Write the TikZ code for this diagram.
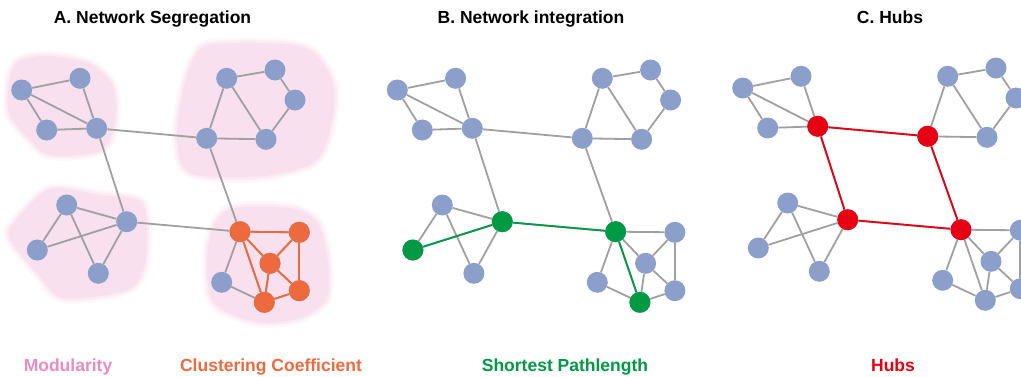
\documentclass[tikz,border=0pt]{standalone}
\usepackage{fontspec}
\setmainfont{Liberation Sans}

\definecolor{nodeblue}{HTML}{8C9FCA}
\definecolor{cluorange}{HTML}{EC6A3E}
\definecolor{pathgreen}{HTML}{009944}
\definecolor{hubred}{HTML}{E60012}
\definecolor{modpink}{HTML}{F8E0EE}
\definecolor{modtext}{HTML}{E98BC4}
\definecolor{edgegray}{HTML}{A0A0A0}

\pgfdeclarelayer{blobs}
\pgfdeclarelayer{edges}
\pgfsetlayers{blobs,edges,main}

\tikzset{
  vtx/.style={circle, fill=nodeblue, draw=none, inner sep=0pt, minimum size=21pt},
  link/.style={draw=edgegray, line width=1.8pt},
  heading/.style={anchor=base, inner sep=0pt, font=\fontsize{17.5}{20}\selectfont\bfseries},
}

% one network: nodes named <prefix><id>, grey links between them
\newcommand\network[1]{%
  \foreach \n/\x/\y in {a1/21.7/90, a2/80/78.3, a3/46.7/130, a4/96.7/128.3,
      b1/226.7/78.3, b2/275/70, b3/295/100, b4/266/139.3, b5/206.7/138.3,
      c1/66.7/205, c2/37.3/250, c3/98.3/273.3, c4/126.7/221.7,
      d1/240/231.7, d2/299.3/232.3, d3/270/263.3, d4/299.3/290.7,
      d5/264.3/302.3, d6/221.7/282.3}
    \node[vtx] (#1\n) at (\x,\y) {};
  \begin{pgfonlayer}{edges}
  \foreach \u/\v in {a1/a2,a1/a3,a1/a4,a2/a4,a3/a4,a4/b5,a4/c4,
      b1/b2,b2/b3,b3/b4,b1/b4,b1/b5,b5/b4,b5/d1,
      c1/c2,c1/c3,c1/c4,c2/c4,c3/c4,c4/d1,
      d1/d2,d1/d3,d1/d5,d1/d6,d2/d3,d2/d4,d3/d4,d3/d5,d4/d5,d6/d5}
    \draw[link] (#1\u) -- (#1\v);
  \end{pgfonlayer}%
}

% recolour some nodes and links of a network
\newcommand\highlight[4]{%
  \foreach \n in {#3}
    \node[vtx, fill=#2] (#1\n-hi) at (#1\n) {};
  \begin{pgfonlayer}{edges}
  \foreach \u/\v in {#4}
    \draw[link, draw=#2] (#1\u) -- (#1\v);
  \end{pgfonlayer}%
}

% soft pink module region
\newcommand\blob[1]{%
  \begin{pgfonlayer}{blobs}
  \draw[modpink, line width=10pt, opacity=.25, line join=round] plot[smooth cycle] coordinates {#1};
  \draw[modpink, line width=5pt, opacity=.5, line join=round] plot[smooth cycle] coordinates {#1};
  \fill[modpink] plot[smooth cycle] coordinates {#1};
  \end{pgfonlayer}%
}

\begin{document}
\begin{tikzpicture}[x=1pt, y=-1pt]
\useasboundingbox (0,0) rectangle (1021,376);

% ---- A: segregation ----
\blob{(20,60) (50,56) (90,64) (113,86) (115,123) (100,151) (50,155) (30,140) (9,113) (10,77)}
\blob{(213,44) (303,47) (333,83) (330,130) (313,163) (257,177) (190,173) (177,140) (182,95) (193,60)}
\blob{(50,189) (100,195) (143,204) (145,263) (127,290) (63,298) (37,273) (9,237) (20,216)}
\blob{(227,210) (290,208) (317,222) (327,255) (327,298) (300,318) (257,322) (213,302) (208,248)}
\network{A}
\highlight{A}{cluorange}{d1,d2,d3,d4,d5}{d1/d2,d1/d3,d1/d5,d2/d3,d2/d4,d3/d4,d3/d5,d4/d5}

% ---- B: integration ----
\begin{scope}[shift={(375.6,0)}]
\network{B}
\highlight{B}{pathgreen}{c2,c4,d1,d5}{c2/c4,c4/d1,d1/d5}
\end{scope}

% ---- C: hubs ----
\begin{scope}[shift={(721,-2)}]
\network{C}
\highlight{C}{hubred}{a4,b5,c4,d1}{a4/b5,a4/c4,b5/d1,c4/d1}
\end{scope}

% headings
\node[heading] (tA) at (152.5,23.5) {A. Network Segregation};
\node[heading] (tB) at (531,23.5) {B. Network integration};
\node[heading] (tC) at (890,23.5) {C. Hubs};

% measure names
\node[heading, text=modtext] (mA1) at (68,371) {Modularity};
\node[heading, text=cluorange] (mA2) at (271,371) {Clustering Coefficient};
\node[heading, text=pathgreen] (mB) at (565,371) {Shortest Pathlength};
\node[heading, text=hubred] (mC) at (893,371) {Hubs};
\end{tikzpicture}
\end{document}
